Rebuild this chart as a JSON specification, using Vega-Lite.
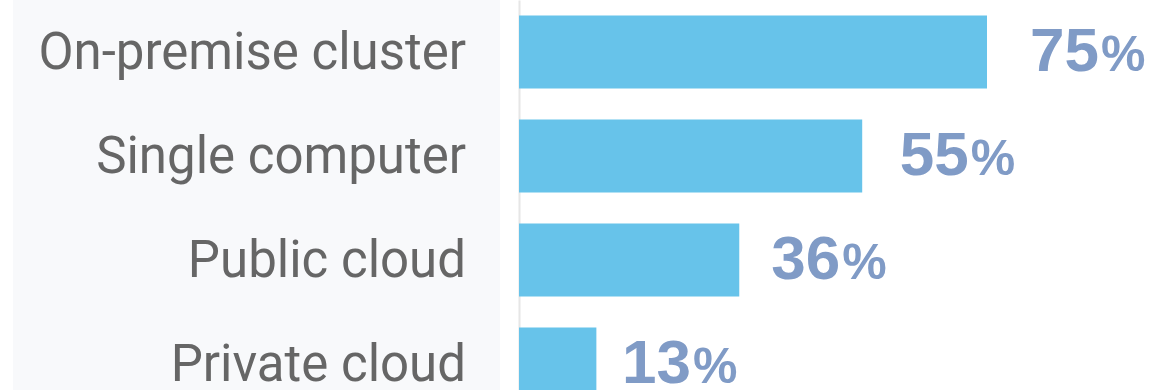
{
  "$schema": "https://vega.github.io/schema/vega-lite/v6.json",
  "autosize": {"type": "pad"},
  "padding": {"left": 13, "top": 0, "right": 15, "bottom": 0},
  "background": "white",
  "spacing": 19,
  "config": {"view": {"stroke": null}},
  "data": {
    "values": [
      {"platform": "On-premise cluster", "share": 75, "label": "75"},
      {"platform": "Single computer", "share": 55, "label": "55"},
      {"platform": "Public cloud", "share": 35.3, "label": "36"},
      {"platform": "Private cloud", "share": 12.4, "label": "13"}
    ]
  },
  "hconcat": [
    {
      "width": 487,
      "height": 416,
      "view": {"fill": "#f8f9fb", "stroke": null},
      "mark": {"type": "text", "align": "right", "baseline": "alphabetic", "dx": -34, "dy": 17, "font": "Roboto", "fontSize": 51, "fontWeight": 400, "color": "#666666"},
      "encoding": {
        "y": {"field": "platform", "type": "nominal", "sort": null, "axis": null, "scale": {"paddingInner": 0.3, "paddingOuter": 0.15}},
        "x": {"value": "width"},
        "text": {"field": "platform"}
      }
    },
    {
      "width": 624,
      "height": 416,
      "encoding": {
        "y": {"field": "platform", "type": "nominal", "sort": null, "scale": {"paddingInner": 0.3, "paddingOuter": 0.15},
              "axis": {"title": null, "labels": false, "ticks": false, "domain": true, "domainColor": "#e6e6e6", "domainWidth": 2}}
      },
      "resolve": {"scale": {"x": "independent"}},
      "layer": [
        {"mark": {"type": "bar", "color": "#67c3ea"},
         "encoding": {"x": {"field": "share", "type": "quantitative", "scale": {"domain": [0, 100]}, "axis": null}}},
        {
          "encoding": {"x": {"field": "share", "type": "quantitative", "scale": {"domain": [-3.41, 92.33], "zero": false, "nice": false}, "axis": null}},
          "layer": [
            {"mark": {"type": "text", "align": "left", "baseline": "alphabetic", "dx": 0, "dy": 19, "font": "Liberation Sans", "fontSize": 62, "fontWeight": "bold", "color": "#809bc6"},
             "encoding": {"text": {"field": "label"}}},
            {"mark": {"type": "text", "align": "left", "baseline": "alphabetic", "dx": 71, "dy": 19, "font": "Liberation Sans", "fontSize": 50, "fontWeight": "bold", "color": "#809bc6"},
             "encoding": {"text": {"value": "%"}}}
          ]
        }
      ]
    }
  ]
}
